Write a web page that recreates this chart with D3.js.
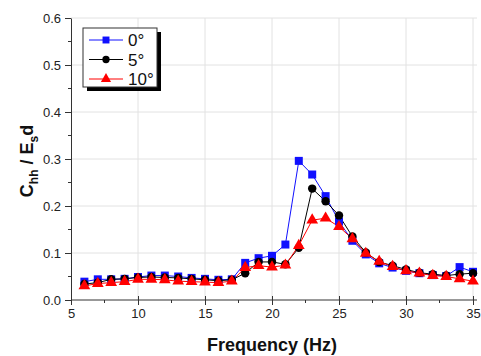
<!DOCTYPE html>
<html><head><meta charset="utf-8">
<script src="https://cdn.jsdelivr.net/npm/d3@7"></script>
<style>body{margin:0;background:#fff}svg{display:block}</style>
</head><body>
<svg id="c" width="481" height="356"></svg>
<script>
const freq = [6,7,8,9,10,11,12,13,14,15,16,17,18,19,20,21,22,23,24,25,26,27,28,29,30,31,32,33,34,35];
const deg0 = [0.039,0.044,0.044,0.045,0.049,0.052,0.052,0.050,0.047,0.045,0.043,0.044,0.079,0.089,0.094,0.118,0.296,0.267,0.221,0.167,0.126,0.097,0.078,0.069,0.062,0.057,0.053,0.051,0.070,0.060];
const deg5 = [0.034,0.037,0.044,0.045,0.048,0.049,0.048,0.047,0.045,0.043,0.041,0.043,0.057,0.081,0.081,0.076,0.111,0.237,0.210,0.180,0.135,0.101,0.081,0.073,0.065,0.058,0.055,0.052,0.055,0.057];
const deg10 = [0.030,0.035,0.037,0.039,0.044,0.044,0.043,0.040,0.039,0.038,0.037,0.040,0.069,0.073,0.070,0.074,0.116,0.170,0.174,0.156,0.130,0.099,0.082,0.071,0.062,0.057,0.052,0.050,0.045,0.040];
const seriesNames = ["0°","5°","10°"];
const xTicks = [5,10,15,20,25,30,35];
const yTicks = [0.0,0.1,0.2,0.3,0.4,0.5,0.6];

const svg = d3.select("#c");
const x = d3.scaleLinear().domain([5,35]).range([71,473]);
const y = d3.scaleLinear().domain([0,0.6]).range([300,18]);
const font = "Arial, Liberation Sans, sans-serif";

// grid
svg.append("g").selectAll("line").data(xTicks.slice(1)).join("line")
  .attr("x1",d=>x(d)).attr("x2",d=>x(d)).attr("y1",y(0)).attr("y2",y(0.6))
  .attr("stroke","#e2e2e2").attr("stroke-width",1);
svg.append("g").selectAll("line").data(yTicks.slice(1)).join("line")
  .attr("x1",x(5)).attr("x2",477).attr("y1",d=>y(d)).attr("y2",d=>y(d))
  .attr("stroke","#e2e2e2").attr("stroke-width",1);

const axisColor = "#333";
// x axis
const gx = svg.append("g").attr("transform",`translate(0,${y(0)})`)
  .call(d3.axisBottom(x).tickValues(xTicks).tickFormat(d3.format("d")).tickSizeInner(5).tickSizeOuter(0).tickPadding(4));
gx.select(".domain").attr("d",`M${x(5)},0H477`).attr("stroke",axisColor);
gx.selectAll(".tick line").attr("y1",-4).attr("y2",5).attr("stroke",axisColor);
gx.selectAll("text").attr("font-family",font).attr("font-size",13).attr("fill","#222");
// minor x ticks
svg.append("g").selectAll("line").data(d3.range(7.5,35,5)).join("line")
  .attr("x1",d=>x(d)).attr("x2",d=>x(d)).attr("y1",y(0)).attr("y2",y(0)+3)
  .attr("stroke",axisColor);

// y axis
const gy = svg.append("g").attr("transform",`translate(${x(5)},0)`)
  .call(d3.axisLeft(y).tickValues(yTicks).tickFormat(d3.format(".1f")).tickSizeInner(6).tickSizeOuter(0).tickPadding(4));
gy.select(".domain").attr("stroke",axisColor);
gy.selectAll(".tick line").attr("stroke",axisColor);
gy.selectAll("text").attr("font-family",font).attr("font-size",13).attr("fill","#222");
svg.append("g").selectAll("line").data(d3.range(0.05,0.6,0.1)).join("line")
  .attr("x1",x(5)-3).attr("x2",x(5)).attr("y1",d=>y(d)).attr("y2",d=>y(d))
  .attr("stroke",axisColor);

// series
const series = [
  {name:seriesNames[0], vals:deg0, color:"#1010ff", shape:"square"},
  {name:seriesNames[1], vals:deg5, color:"#000000", shape:"circle"},
  {name:seriesNames[2], vals:deg10, color:"#ff0000", shape:"triangle"}
];
const symType = {square:d3.symbolSquare, circle:d3.symbolCircle, triangle:d3.symbolTriangle};
const symSize = {square:64, circle:56, triangle:60};
const line = d3.line().x(d=>x(d[0])).y(d=>y(d[1]));
series.forEach(s=>{
  const pts = freq.map((f,i)=>[f,s.vals[i]]);
  svg.append("path").datum(pts).attr("d",line).attr("fill","none")
    .attr("stroke",s.color).attr("stroke-width",1);
});
series.forEach(s=>{
  const pts = freq.map((f,i)=>[f,s.vals[i]]);
  svg.append("g").selectAll("path").data(pts).join("path")
    .attr("transform",d=>`translate(${x(d[0])},${y(d[1])})`)
    .attr("d",d3.symbol().type(symType[s.shape]).size(symSize[s.shape]))
    .attr("fill",s.color);
});

// legend
const lg = svg.append("g");
lg.append("rect").attr("x",87).attr("y",32).attr("width",74).attr("height",59).attr("fill","#000");
lg.append("rect").attr("x",83).attr("y",28).attr("width",74).attr("height",59).attr("fill","#fff").attr("stroke","#333").attr("stroke-width",1);
series.forEach((s,i)=>{
  const yy = 40 + i*19.5;
  lg.append("line").attr("x1",89).attr("x2",123).attr("y1",yy).attr("y2",yy).attr("stroke",s.color).attr("stroke-width",1);
  lg.append("path").attr("transform",`translate(106,${yy})`)
    .attr("d",d3.symbol().type(symType[s.shape]).size(symSize[s.shape]*0.75)).attr("fill",s.color);
  lg.append("text").attr("x",128).attr("y",yy+6).text(s.name)
    .attr("font-family",font).attr("font-size",17).attr("fill","#111");
});

// axis titles
svg.append("text").attr("x",272).attr("y",351).attr("text-anchor","middle")
  .attr("font-family",font).attr("font-size",18).attr("font-weight","bold").attr("fill","#111")
  .text("Frequency (Hz)");
const yl = svg.append("text").attr("transform","translate(33,161) rotate(-90)").attr("text-anchor","middle")
  .attr("font-family",font).attr("font-size",18).attr("font-weight","bold").attr("fill","#111");
yl.append("tspan").text("C");
yl.append("tspan").attr("font-size",12).attr("dy",5).text("hh");
yl.append("tspan").attr("dy",-5).text(" / E");
yl.append("tspan").attr("font-size",12).attr("dy",5).text("s");
yl.append("tspan").attr("dy",-5).text("d");
</script>
</body></html>
